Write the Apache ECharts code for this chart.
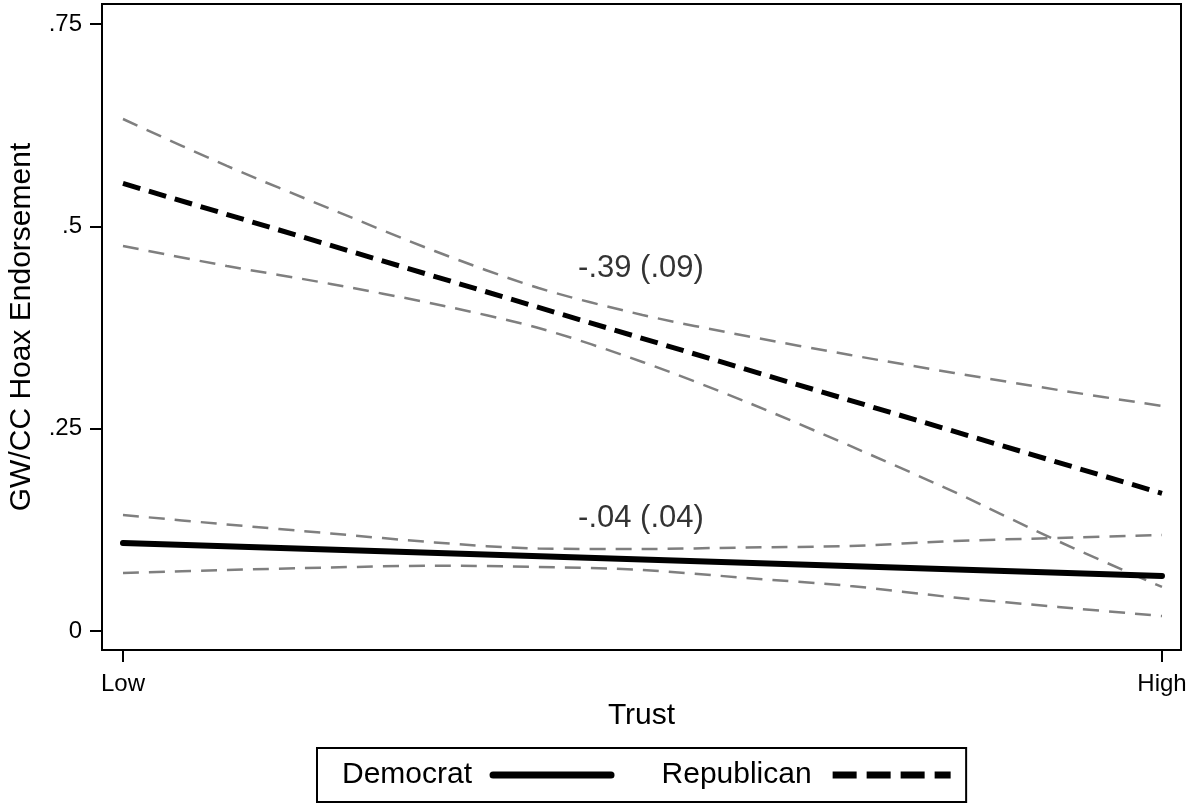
<!DOCTYPE html>
<html>
<head>
<meta charset="utf-8">
<script src="https://cdn.jsdelivr.net/npm/echarts@6/dist/echarts.min.js"></script>
<style>
  html, body { margin: 0; padding: 0; background: #fff; }
  #chart { width: 1188px; height: 806px; }
</style>
</head>
<body>
<div id="chart"></div>
<script>
// Trust (0 = Low, 1 = High) at which the fitted values and bounds are evaluated
const trustPoints = [0, 0.1, 0.2, 0.3, 0.4, 0.5, 0.6, 0.7, 0.8, 0.9, 1];

// Fitted lines at Low and High trust
const fitTrust = [0, 1];
const demFit = [0.1087, 0.068];
const repFit = [0.553, 0.170];

// 95% confidence bounds
const repUpper = [0.6326, 0.5746, 0.5214, 0.4695, 0.4238, 0.3905, 0.3645, 0.341, 0.3188, 0.2978, 0.278];
const repLower = [0.4757, 0.451, 0.4288, 0.404, 0.3744, 0.3324, 0.283, 0.2286, 0.1718, 0.111, 0.0544];
const demUpper = [0.1433, 0.1316, 0.1205, 0.1094, 0.1019, 0.1013, 0.1032, 0.105, 0.1112, 0.1149, 0.1186];
const demLower = [0.0717, 0.0754, 0.0785, 0.0806, 0.0791, 0.0754, 0.0655, 0.0556, 0.0414, 0.0297, 0.0185];

// Slope (standard error) notes and where they sit
const slopeNotes = ['-.39 (.09)', '-.04 (.04)'];
const slopeNoteAt = [[0.438, 0.4485], [0.438, 0.1396]];

// Axis ticks
const xTickValues = [0, 1];
const xTickLabels = ['Low', 'High'];
const yTickValues = [0, 0.25, 0.5, 0.75];
const yTickLabels = ['0', '.25', '.5', '.75'];

const FONT = '"Liberation Sans", Arial, sans-serif';
const GRAY = '#7f7f7f';

const pairs = (xs, ys) => xs.map((x, i) => [x, ys[i]]);

const bandSeries = (name, ys) => ({
  name: name,
  type: 'line',
  data: pairs(trustPoints, ys),
  smooth: 0.3,
  symbol: 'none',
  silent: true,
  z: 2,
  lineStyle: { color: GRAY, width: 2.5, type: [16, 10] }
});

const chart = echarts.init(document.getElementById('chart'), null, { renderer: 'canvas' });

chart.setOption({
  animation: false,
  backgroundColor: '#fff',
  textStyle: { fontFamily: FONT, color: '#000' },
  grid: {
    left: 102, right: 7, top: 4, bottom: 156,
    outerBoundsMode: 'none',
    containLabel: false,
    show: true, borderColor: '#000', borderWidth: 2
  },
  xAxis: {
    type: 'value',
    min: -0.0202, max: 1.0183,
    name: 'Trust',
    nameLocation: 'middle',
    nameGap: 48,
    nameTextStyle: { fontFamily: FONT, fontSize: 30, color: '#000' },
    axisLine: { show: false, onZero: false },
    splitLine: { show: false },
    axisTick: {
      show: true, length: 12, customValues: xTickValues,
      lineStyle: { color: '#000', width: 2 }
    },
    axisLabel: {
      customValues: xTickValues,
      margin: 22,
      fontFamily: FONT, fontSize: 24, color: '#000',
      formatter: v => xTickLabels[xTickValues.indexOf(v)]
    }
  },
  yAxis: {
    type: 'value',
    min: -0.0235, max: 0.7747,
    name: 'GW/CC Hoax Endorsement',
    nameLocation: 'middle',
    nameGap: 65,
    nameTextStyle: { fontFamily: FONT, fontSize: 30, color: '#000' },
    axisLine: { show: false, onZero: false },
    splitLine: { show: false },
    axisTick: {
      show: true, length: 12, customValues: yTickValues,
      lineStyle: { color: '#000', width: 2 }
    },
    axisLabel: {
      customValues: yTickValues,
      margin: 20,
      fontFamily: FONT, fontSize: 24, color: '#000',
      formatter: v => yTickLabels[yTickValues.indexOf(v)]
    }
  },
  legend: {
    data: [
      { name: 'Democrat', itemStyle: { opacity: 0 }, lineStyle: { width: 7, type: 'solid' } },
      { name: 'Republican', itemStyle: { opacity: 0 }, lineStyle: { width: 7, type: [24, 10] } }
    ],
    left: 317, top: 748,
    orient: 'horizontal',
    align: 'right',
    selectedMode: false,
    itemWidth: 118, itemHeight: 20,
    itemGap: 47,
    padding: [12, 12, 12, 25],
    borderColor: '#000', borderWidth: 2,
    textStyle: { fontFamily: FONT, fontSize: 30, color: '#000', padding: [0, 16, 0, 0] }
  },
  series: [
    bandSeries('Republican upper', repUpper),
    bandSeries('Republican lower', repLower),
    bandSeries('Democrat upper', demUpper),
    bandSeries('Democrat lower', demLower),
    {
      name: 'Democrat',
      type: 'line',
      data: pairs(fitTrust, demFit),
      symbol: 'none',
      z: 3,
      lineStyle: { color: '#000', width: 6, cap: 'round' },
      itemStyle: { color: '#000' }
    },
    {
      name: 'Republican',
      type: 'line',
      data: pairs(fitTrust, repFit),
      symbol: 'none',
      z: 3,
      lineStyle: { color: '#000', width: 5, type: [18, 9] },
      itemStyle: { color: '#000' }
    },
    {
      name: 'notes',
      type: 'scatter',
      symbolSize: 0,
      silent: true,
      z: 4,
      itemStyle: { color: '#000' },
      data: slopeNoteAt.map((p, i) => ({ value: p, note: slopeNotes[i] })),
      label: {
        show: true,
        position: 'right',
        distance: 0,
        fontFamily: FONT, fontSize: 31, color: '#000',
        textBorderWidth: 0,
        formatter: p => p.data.note
      }
    }
  ]
});
</script>
</body>
</html>
